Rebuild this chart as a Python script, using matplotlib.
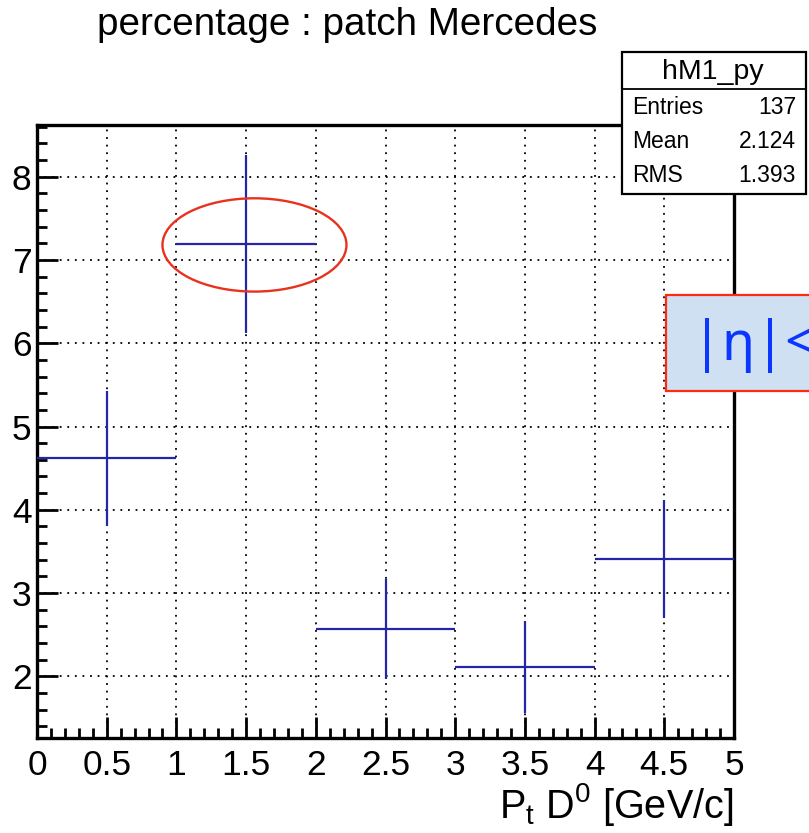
import numpy as np
import matplotlib.pyplot as plt
from matplotlib.patches import Ellipse, Rectangle
from matplotlib.ticker import MultipleLocator

plt.rcParams['font.family'] = ['Liberation Sans', 'DejaVu Sans']
plt.rcParams['mathtext.default'] = 'regular'

# hM1_py : percentage per Pt bin
bin_edges = [0, 1, 2, 3, 4, 5]
percent = [4.62, 7.19, 2.57, 2.11, 3.41]
percent_err = [0.81, 1.07, 0.60, 0.55, 0.71]

stats_labels = ['Entries', 'Mean', 'RMS']
stats_values = ['137', '2.124', '1.393']

W, H = 809, 833


def fx(x):
    return x / W


def fy(y):
    return 1 - y / H


fig = plt.figure(figsize=(W / 100, H / 100), dpi=100)
ax = fig.add_axes([fx(37), fy(738), (734 - 37) / W, (738 - 125) / H])

edges = np.array(bin_edges, dtype=float)
centers = (edges[:-1] + edges[1:]) / 2
half = (edges[1:] - edges[:-1]) / 2
ax.errorbar(centers, percent, xerr=half, yerr=percent_err, fmt='none',
            ecolor='#2525a8', elinewidth=1.6, capsize=0, zorder=3)

ax.set_xlim(0, 5)
ax.set_ylim(1.26, 8.62)
ax.xaxis.set_major_locator(MultipleLocator(0.5))
ax.xaxis.set_minor_locator(MultipleLocator(0.1))
ax.yaxis.set_major_locator(MultipleLocator(1))
ax.yaxis.set_minor_locator(MultipleLocator(0.2))
ax.xaxis.set_major_formatter(plt.FuncFormatter(lambda v, p: f'{v:g}'))

ax.grid(True, which='major', color='black', linestyle=(0, (1, 3.2)), linewidth=1.3)
ax.set_axisbelow(True)
ax.tick_params(which='both', direction='in', top=False, right=False,
               labelsize=25.5, width=2, color='black')
ax.tick_params(which='major', length=15)
ax.tick_params(which='minor', length=7)
ax.tick_params(axis='x', pad=8)
ax.tick_params(axis='y', pad=4)
for s in ax.spines.values():
    s.set_linewidth(2.4)

# circle around the 1-2 GeV/c bin
ell = Ellipse((centers[1] + 0.06, percent[1] - 0.01), 1.32, 1.12, fill=False,
              edgecolor='#e8321e', linewidth=1.7, zorder=4, clip_on=False)
ax.add_patch(ell)

fig.text(fx(97), fy(35), 'percentage : patch Mercedes', fontsize=27.8,
         ha='left', va='baseline')
fig.text(fx(733), fy(818), r'P$_t$ D$^0$ [GeV/c]', fontsize=28.5,
         ha='right', va='baseline')

# stats box
box_l, box_r, box_t, box_b, box_sep = 622, 806, 52, 194, 89
fig.patches.append(Rectangle((fx(box_l), fy(box_b)), (box_r - box_l) / W,
                             (box_b - box_t) / H, transform=fig.transFigure,
                             facecolor='white', edgecolor='black', linewidth=1.6,
                             zorder=5))
fig.add_artist(plt.Line2D([fx(box_l), fx(box_r)], [fy(box_sep), fy(box_sep)],
                          transform=fig.transFigure, color='black', linewidth=1.3,
                          zorder=6))
fig.text(fx(713), fy(79), 'hM1_py', fontsize=20.5, ha='center', va='baseline', zorder=7)
baselines = [114, 148, 182]
for lab, val, b in zip(stats_labels, stats_values, baselines):
    fig.text(fx(632), fy(b), lab, fontsize=16.5, ha='left', va='baseline', zorder=7)
    fig.text(fx(796), fy(b), val, fontsize=16.5, ha='right', va='baseline', zorder=7)

# eta range label
fig.patches.append(Rectangle((fx(666), fy(391)), (W + 20 - 666) / W, (391 - 295) / H,
                             transform=fig.transFigure, facecolor='#cfe0f3',
                             edgecolor='#ff2a10', linewidth=1.6, zorder=5))
fig.text(fx(692), fy(346), '|η|<', fontsize=39, color='#0a36ff', fontweight='bold',
         family=['Noto Sans', 'DejaVu Sans'], ha='left', va='center', zorder=7)

fig.savefig('out.png', dpi=100)
